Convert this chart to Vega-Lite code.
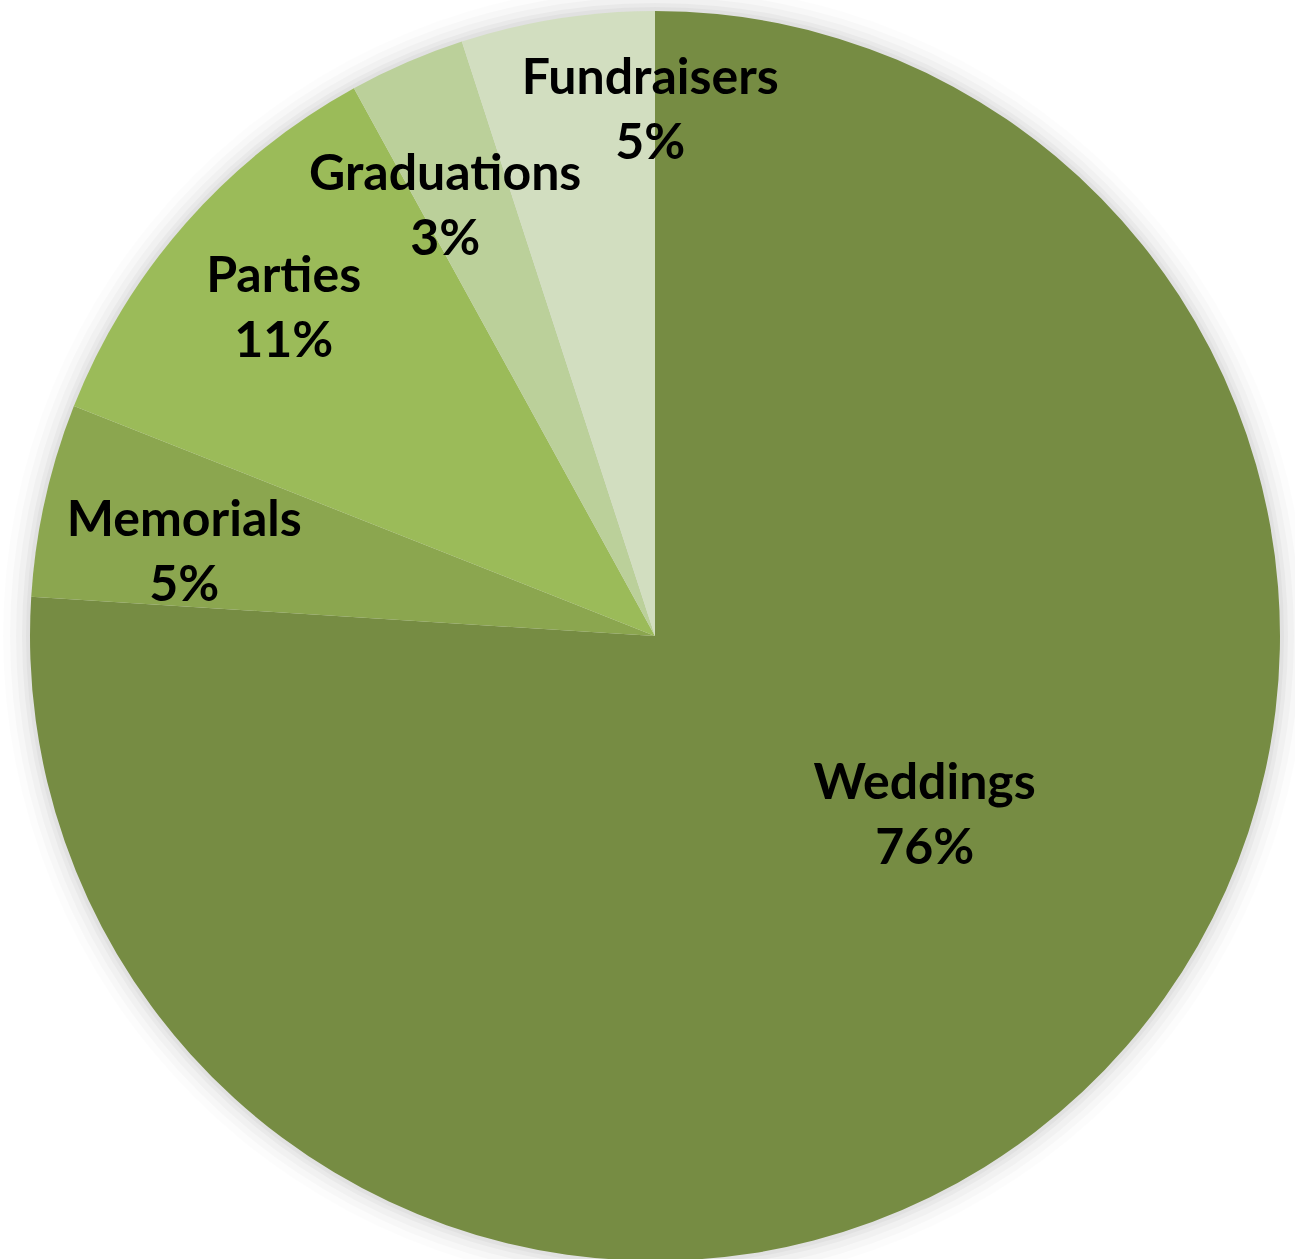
{
  "$schema": "https://vega.github.io/schema/vega-lite/v6.json",
  "autosize": "none",
  "width": 1250,
  "height": 1250,
  "padding": {"left": 30, "top": 11, "right": 15, "bottom": 0},
  "background": "white",
  "config": {"view": {"stroke": null}},
  "data": {"values": [
    {"category": "Weddings", "value": 76},
    {"category": "Memorials", "value": 5},
    {"category": "Parties", "value": 11},
    {"category": "Graduations", "value": 3},
    {"category": "Fundraisers", "value": 5}
  ]},
  "transform": [
    {"stack": "value", "groupby": [], "as": ["start", "end"]},
    {"calculate": "(datum.start + datum.end) / 2", "as": "mid"},
    {"calculate": "[datum.category, datum.value + '%']", "as": "label"}
  ],
  "layer": [
    {"data": {"values": [{"k": "shadow"}]}, "transform": [], "mark": {"type": "arc", "theta": 0, "theta2": 6.2832, "radius": 652, "fill": "#000", "fillOpacity": 0.012}, "encoding": {}},
    {"data": {"values": [{"k": "shadow"}]}, "transform": [], "mark": {"type": "arc", "theta": 0, "theta2": 6.2832, "radius": 645, "fill": "#000", "fillOpacity": 0.018}, "encoding": {}},
    {"data": {"values": [{"k": "shadow"}]}, "transform": [], "mark": {"type": "arc", "theta": 0, "theta2": 6.2832, "radius": 639, "fill": "#000", "fillOpacity": 0.025}, "encoding": {}},
    {"data": {"values": [{"k": "shadow"}]}, "transform": [], "mark": {"type": "arc", "theta": 0, "theta2": 6.2832, "radius": 633, "fill": "#000", "fillOpacity": 0.03}, "encoding": {}},
    {"data": {"values": [{"k": "shadow"}]}, "transform": [], "mark": {"type": "arc", "theta": 0, "theta2": 6.2832, "radius": 629, "fill": "#000", "fillOpacity": 0.03}, "encoding": {}},
    {
      "mark": {"type": "arc", "radius": 625, "stroke": null},
      "encoding": {
        "theta": {"field": "start", "type": "quantitative", "scale": {"domain": [0, 100]}},
        "theta2": {"field": "end"},
        "color": {"field": "category", "type": "nominal", "legend": null,
          "scale": {"domain": ["Weddings", "Memorials", "Parties", "Graduations", "Fundraisers"],
                    "range": ["#768C43", "#8BA64F", "#9BBB59", "#BBD09A", "#D2DEC0"]}}
      }
    },
    {
      "transform": [{"filter": "datum.category === 'Weddings'"}],
      "mark": {"type": "text", "radius": 324, "thetaOffset": -0.229, "dy": -32, "font": "Lato", "fontWeight": "bold", "fontSize": 50, "lineHeight": 65, "align": "center", "baseline": "middle", "fill": "#000"},
      "encoding": {
        "theta": {"field": "mid", "type": "quantitative", "scale": {"domain": [0, 100]}},
        "text": {"field": "label"}
      }
    },
    {
      "transform": [{"filter": "datum.category === 'Fundraisers'"}],
      "mark": {"type": "text", "radius": 525, "thetaOffset": 0.148, "dy": -32, "font": "Lato", "fontWeight": "bold", "fontSize": 50, "lineHeight": 65, "align": "center", "baseline": "middle", "fill": "#000"},
      "encoding": {
        "theta": {"field": "mid", "type": "quantitative", "scale": {"domain": [0, 100]}},
        "text": {"field": "label"}
      }
    },
    {
      "transform": [{"filter": "datum.category === 'Parties'"}],
      "mark": {"type": "text", "radius": 495, "dy": -32, "font": "Lato", "fontWeight": "bold", "fontSize": 50, "lineHeight": 65, "align": "center", "baseline": "middle", "fill": "#000"},
      "encoding": {
        "theta": {"field": "mid", "type": "quantitative", "scale": {"domain": [0, 100]}},
        "text": {"field": "label"}
      }
    },
    {
      "transform": [{"filter": "datum.category === 'Memorials' || datum.category === 'Graduations'"}],
      "mark": {"type": "text", "radius": 478, "thetaOffset": -0.046, "dy": -32, "font": "Lato", "fontWeight": "bold", "fontSize": 50, "lineHeight": 65, "align": "center", "baseline": "middle", "fill": "#000"},
      "encoding": {
        "theta": {"field": "mid", "type": "quantitative", "scale": {"domain": [0, 100]}},
        "text": {"field": "label"}
      }
    }
  ]
}
